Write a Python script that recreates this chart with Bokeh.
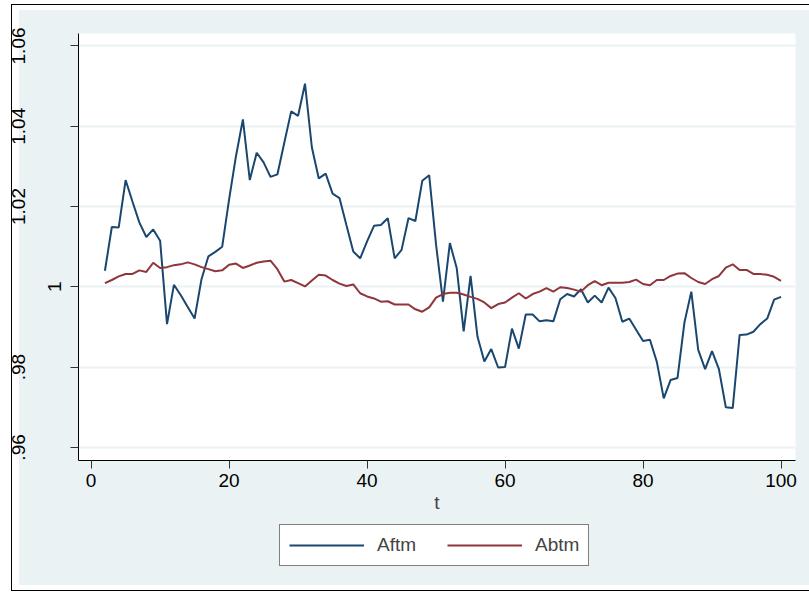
from bokeh.plotting import figure
from bokeh.layouts import column
from bokeh.models import (ColumnDataSource, Legend, LegendItem, FixedTicker, Range1d,
                          LinearAxis)
from bokeh.embed import file_html
from bokeh.resources import INLINE

t = list(range(2, 101))

aftm = [
    1.0040, 1.0149, 1.0148, 1.0266, 1.0212, 1.0160, 1.0124, 1.0143, 1.0115, 0.9907,
    1.0005, 0.9979, 0.9950, 0.9921, 1.0019, 1.0076, 1.0087, 1.0100, 1.0218, 1.0326,
    1.0417, 1.0266, 1.0334, 1.0310, 1.0274, 1.0280, 1.0359, 1.0437, 1.0426, 1.0506,
    1.0347, 1.0270, 1.0282, 1.0232, 1.0221, 1.0154, 1.0088, 1.0071, 1.0113, 1.0152,
    1.0154, 1.0171, 1.0071, 1.0092, 1.0171, 1.0164, 1.0264, 1.0278, 1.0105, 0.9963,
    1.0109, 1.0046, 0.9889, 1.0027, 0.9876, 0.9814, 0.9845, 0.9799, 0.9800, 0.9896,
    0.9846, 0.9931, 0.9931, 0.9914, 0.9917, 0.9914, 0.9969, 0.9982, 0.9976, 0.9994,
    0.9961, 0.9978, 0.9961, 0.9998, 0.9972, 0.9913, 0.9921, 0.9893, 0.9865, 0.9868,
    0.9813, 0.9722, 0.9768, 0.9773, 0.9911, 0.9988, 0.9843, 0.9795, 0.9840, 0.9795,
    0.9700, 0.9698, 0.9880, 0.9881, 0.9888, 0.9907, 0.9921, 0.9968, 0.9975,
]

abtm = [
    1.0009, 1.0017, 1.0026, 1.0032, 1.0032, 1.0041, 1.0037, 1.0060, 1.0047, 1.0049,
    1.0054, 1.0056, 1.0061, 1.0056, 1.0049, 1.0044, 1.0039, 1.0041, 1.0055, 1.0058,
    1.0047, 1.0053, 1.0060, 1.0063, 1.0065, 1.0044, 1.0013, 1.0017, 1.0009, 1.0001,
    1.0016, 1.0030, 1.0028, 1.0017, 1.0008, 1.0002, 1.0006, 0.9984, 0.9976, 0.9971,
    0.9963, 0.9964, 0.9956, 0.9956, 0.9956, 0.9944, 0.9938, 0.9949, 0.9973, 0.9982,
    0.9985, 0.9985, 0.9981, 0.9975, 0.9970, 0.9961, 0.9947, 0.9957, 0.9961, 0.9973,
    0.9984, 0.9971, 0.9982, 0.9988, 0.9997, 0.9988, 0.9999, 0.9997, 0.9993, 0.9988,
    1.0004, 1.0014, 1.0004, 1.0010, 1.0010, 1.0010, 1.0012, 1.0018, 1.0007, 1.0004,
    1.0017, 1.0017, 1.0027, 1.0033, 1.0034, 1.0022, 1.0012, 1.0007, 1.0019, 1.0027,
    1.0048, 1.0056, 1.0042, 1.0042, 1.0032, 1.0032, 1.0030, 1.0025, 1.0015,
]

x_ticks = [0, 20, 40, 60, 80, 100]
y_ticks = [0.96, 0.98, 1.0, 1.02, 1.04, 1.06]
y_tick_labels = [".96", ".98", "1", "1.02", "1.04", "1.06"]
series_names = ["Aftm", "Abtm"]
series_colors = ["#1A476F", "#90353B"]

BG = "#EAF2F3"
FONT = "Liberation Sans"

src = ColumnDataSource(dict(t=t, aftm=aftm, abtm=abtm))

# ---- main chart -------------------------------------------------------------
p = figure(frame_width=717, frame_height=427, output_backend="svg", toolbar_location=None,
           x_range=Range1d(-1.83, 102.1), y_range=Range1d(0.95674, 1.0631),
           min_border_left=78, min_border_right=14, min_border_top=33,
           min_border_bottom=60)
p.border_fill_alpha = 0
p.background_fill_color = "white"
p.outline_line_color = None

p.line("t", "aftm", source=src, line_color=series_colors[0], line_width=2)
p.line("t", "abtm", source=src, line_color=series_colors[1], line_width=2)

# x axis
xa = p.xaxis[0]
xa.ticker = FixedTicker(ticks=x_ticks)
xa.major_label_standoff = 5
xa.axis_label = "t"
xa.axis_label_text_font = FONT
xa.axis_label_text_font_style = "normal"
xa.axis_label_text_font_size = "19px"
xa.axis_label_standoff = 2

# inner y axis: line, ticks and the "1" label
ya = p.yaxis[0]
ya.ticker = FixedTicker(ticks=y_ticks)
ya.major_label_overrides = {v: (s if s == "1" else "") for v, s in zip(y_ticks, y_tick_labels)}
ya.major_label_orientation = "vertical"
ya.major_label_standoff = 9

# outer y axis: the other labels, farther left
ya2 = LinearAxis(ticker=FixedTicker(ticks=y_ticks))
ya2.major_label_overrides = {v: ("" if s == "1" else s) for v, s in zip(y_ticks, y_tick_labels)}
ya2.major_label_orientation = "vertical"
ya2.major_label_standoff = 20
ya2.axis_line_color = None
ya2.major_tick_line_color = None
p.add_layout(ya2, "left")

for ax in (xa, ya, ya2):
    if ax is not ya2:
        ax.axis_line_color = "black"
        ax.axis_line_width = 1
        ax.major_tick_line_color = "#333333"
    ax.major_tick_out = 8 if ax is not ya2 else 0
    ax.major_tick_in = 0
    ax.minor_tick_out = 0
    ax.minor_tick_in = 0
    ax.major_label_text_font = FONT
    ax.major_label_text_font_size = "19px"
    ax.major_label_text_color = "black"

p.xgrid.visible = False
p.ygrid.ticker = FixedTicker(ticks=y_ticks)
p.ygrid.grid_line_color = BG
p.ygrid.grid_line_width = 2

# ---- legend strip -----------------------------------------------------------
leg_h = 594 - (33 + 427 + 60)
q = figure(width=809, height=leg_h, output_backend="svg", toolbar_location=None,
           x_range=Range1d(0, 1), y_range=Range1d(0, 1),
           x_axis_type=None, y_axis_type=None,
           min_border_left=78, min_border_right=14, min_border_top=0, min_border_bottom=0)
q.border_fill_alpha = 0
q.background_fill_alpha = 0
q.outline_line_color = None
q.grid.visible = False
# legend keys: lines kept outside the visible range of this strip
hidden = ColumnDataSource(dict(x=[5, 6], y=[5, 6]))
items = []
for name, col in zip(series_names, series_colors):
    rr = q.line("x", "y", source=hidden, line_color=col, line_width=2)
    items.append(LegendItem(label=name, renderers=[rr]))

legend = Legend(items=items, orientation="horizontal", location=(201, 28))
legend.label_text_font = FONT
legend.label_text_font_size = "19px"
legend.glyph_width = 75
legend.glyph_height = 20
legend.label_height = 20
legend.label_standoff = 13
legend.spacing = 31
legend.padding = 9
legend.margin = 0
legend.border_line_color = "black"
legend.border_line_width = 1
legend.background_fill_color = "white"
legend.background_fill_alpha = 1
q.add_layout(legend, "center")

layout = column(p, q, spacing=0)
# picture surround: white margin, thin black frame, light bluish-gray graph region
layout.styles = {
    "background": (
        "linear-gradient(#000,#000) 11px 4px / 1px 587px no-repeat, "
        "linear-gradient(#000,#000) 11px 4px / 798px 1px no-repeat, "
        "linear-gradient(#000,#000) 11px 590px / 798px 1px no-repeat, "
        f"linear-gradient({BG},{BG}) 19px 10px / 790px 575px no-repeat, "
        "white"
    )
}

open("out.html", "w").write(file_html(layout, INLINE))
